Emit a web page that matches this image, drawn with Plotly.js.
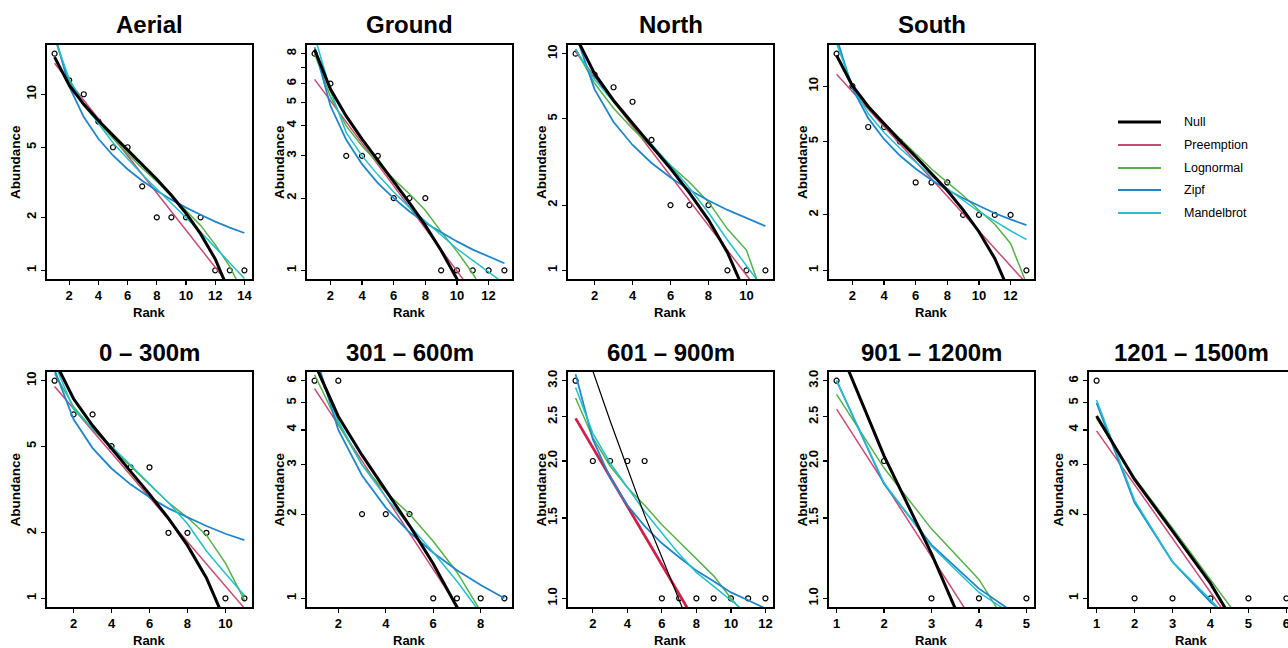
<!DOCTYPE html>
<html><head><meta charset="utf-8">
<script src="https://cdn.plot.ly/plotly-3.0.1.min.js"></script>
<style>html,body{margin:0;padding:0;overflow:hidden;background:#fff}#chart{width:1310px;height:648px}</style>
</head><body><div id="chart"></div>
<script>
// ---- data ----
const titles = ["Aerial","Ground","North","South","0 – 300m","301 – 600m","601 – 900m","901 – 1200m","1201 – 1500m"];
const modelNames = ["Null","Preemption","Lognormal","Zipf","Mandelbrot"];

const obsAerial  = [17,12,10,7,5,5,3,2,2,2,2,1,1,1];
const nullAerial = [16.26,11.26,8.76,7.09,5.84,4.84,4.01,3.29,2.67,2.11,1.61,1.16,0.74,0.36];
const preAerial  = [15.0,11.8,9.24,7.25,5.69,4.47,3.51,2.75,2.16,1.70,1.33,1.05,0.82,0.64];
const lognAerial = [21,11.8,8.6,6.9,5.6,4.6,3.8,3.2,2.65,2.2,1.8,1.4,1.05,0.72];
const zipfAerial = [21.9,11.07,7.42,5.59,4.49,3.75,3.23,2.83,2.52,2.27,2.07,1.89,1.75,1.63];
const mandAerial = [21,12.2,8.8,6.8,5.3,4.3,3.5,2.9,2.4,2.0,1.65,1.35,1.1,0.9];

const obsGround  = [8,6,3,3,3,2,2,2,1,1,1,1,1];
const nullGround = [8.32,5.70,4.39,3.52,2.87,2.35,1.91,1.54,1.21,0.92,0.66,0.42,0.20];
const preGround  = [6.25,5.09,4.15,3.38,2.76,2.25,1.83,1.49,1.22,0.99,0.81,0.66,0.54];
const lognGround = [8.0,5.3,4.0,3.3,2.8,2.4,2.08,1.78,1.45,1.2,0.97,0.75,0.55];
const zipfGround = [8.5,4.85,3.50,2.77,2.31,2.00,1.76,1.58,1.44,1.32,1.22,1.14,1.07];
const mandGround = [9.5,5.6,3.75,3.0,2.5,2.12,1.83,1.6,1.4,1.23,1.1,0.98,0.88];

const obsNorth  = [10,8,7,6,4,2,2,2,1,1,1];
const nullNorth = [12.08,8.08,6.08,4.75,3.75,2.95,2.28,1.71,1.21,0.76,0.36];
const preNorth  = [10.2,7.83,6.02,4.62,3.55,2.73,2.09,1.61,1.24,0.95,0.73];
const lognNorth = [10.5,7.3,5.6,4.5,3.7,3.05,2.55,2.07,1.55,1.24,0.7];
const zipfNorth = [12.35,6.84,4.84,3.79,3.13,2.68,2.35,2.10,1.90,1.74,1.60];
const mandNorth = [10.5,7.6,6.0,4.8,3.85,3.05,2.4,1.85,1.38,1.04,0.8];

const obsSouth  = [15,10,6,6,5,3,3,3,2,2,2,2,1];
const nullSouth = [14.68,10.06,7.75,6.22,5.06,4.14,3.37,2.71,2.13,1.62,1.16,0.74,0.355];
const preSouth  = [11.6,9.33,7.50,6.03,4.85,3.90,3.13,2.52,2.03,1.63,1.31,1.05,0.85];
const lognSouth = [14.5,9.8,7.6,6.3,5.2,4.3,3.55,3.0,2.55,2.12,1.78,1.4,0.85];
const zipfSouth = [18.3,9.71,6.70,5.15,4.20,3.56,3.09,2.74,2.46,2.23,2.04,1.89,1.76];
const mandSouth = [17,10.0,7.1,5.6,4.6,3.85,3.25,2.78,2.4,2.08,1.85,1.64,1.47];

const obsE1  = [10,7,7,5,4,4,2,2,2,1,1];
const nullE1 = [12.35,8.26,6.22,4.85,3.83,3.01,2.33,1.75,1.24,0.78,0.37];
const preE1  = [9.4,7.44,5.88,4.65,3.68,2.91,2.30,1.82,1.44,1.14,0.90];
const lognE1 = [10.8,7.6,6.0,4.9,4.05,3.35,2.75,2.35,1.95,1.45,0.98];
const zipfE1 = [11.2,6.65,4.90,3.95,3.34,2.91,2.59,2.35,2.15,1.98,1.85];
const mandE1 = [12,7.4,6.0,5.0,4.1,3.35,2.75,2.2,1.65,1.3,1.03];

const obsE2  = [6,6,2,2,2,1,1,1,1];
const nullE2 = [6.915,4.47,3.25,2.43,1.82,1.33,0.93,0.58,0.27];
const preE2  = [5.62,4.18,3.10,2.31,1.71,1.27,0.947,0.70,0.52];
const lognE2 = [6.3,4.2,3.0,2.4,2.0,1.6,1.24,0.9,0.6];
const zipfE2 = [7.58,4.0,2.75,2.11,1.72,1.455,1.26,1.115,1.0];
const mandE2 = [7.0,4.3,3.0,2.3,1.82,1.46,1.15,0.88,0.68];

const obsE3  = [3,2,2,2,2,1,1,1,1,1,1,1];
const nullE3 = [4.6,3.15,2.45,1.93,1.52,1.23,1.0,0.8,0.61,0.43,0.28,0.13];
const preE3  = [2.48,2.14,1.84,1.59,1.37,1.18,1.02,0.88,0.76,0.65,0.56,0.48];
const lognE3 = [2.75,2.25,1.95,1.75,1.6,1.45,1.33,1.22,1.12,1.0,0.91,0.82];
const zipfE3 = [3.1,2.23,1.84,1.60,1.44,1.32,1.23,1.15,1.09,1.03,0.99,0.95];
const mandE3 = [2.9,2.3,1.98,1.75,1.55,1.39,1.25,1.14,1.06,0.99,0.92,0.86];

const obsE4  = [3,2,1,1,1];
const nullE4 = [3.653,2.053,1.253,0.72,0.32];
const preE4  = [2.6,1.79,1.23,0.85,0.58];
const lognE4 = [2.8,1.93,1.42,1.1,0.75];
const zipfE4 = [3.0,1.78,1.31,1.05,0.89];
const mandE4 = [3.0,1.79,1.30,1.03,0.88];

const obsE5  = [6,1,1,1,1,1];
const nullE5 = [4.49,2.66,1.74,1.13,0.67,0.31];
const preE5  = [3.97,2.55,1.64,1.05,0.675,0.43];
const lognE5 = [4.4,2.7,1.78,1.18,0.78,0.5];
const zipfE5 = [5.0,2.2,1.35,0.97,0.75,0.6];
const mandE5 = [5.12,2.24,1.35,0.99,0.7,0.55];

// tick labels
const xTicksAerial = [2,4,6,8,10,12,14];
const xTicksGround = [2,4,6,8,10,12];
const xTicksNorth  = [2,4,6,8,10];
const xTicksSouth  = [2,4,6,8,10,12];
const xTicksE1 = [2,4,6,8,10];
const xTicksE2 = [2,4,6,8];
const xTicksE3 = [2,4,6,8,10,12];
const xTicksE4 = [1,2,3,4,5];
const xTicksE5 = [1,2,3,4,5,6];
const yTicks1_10 = [1,2,5,10];
const yTicksGround = [1,2,3,4,5,6,7,8];
const yLabelsGround = ["1","2","3","4","5","6","","8"];
const yTicks1_6 = [1,2,3,4,5,6];
const yTicksHalf = [1.0,1.5,2.0,2.5,3.0];
const yLabelsHalf = ["1.0","1.5","2.0","2.5","3.0"];

const panels = [
  {obs:obsAerial, m:[nullAerial,preAerial,lognAerial,zipfAerial,mandAerial], xt:xTicksAerial, yt:yTicks1_10},
  {obs:obsGround, m:[nullGround,preGround,lognGround,zipfGround,mandGround], xt:xTicksGround, yt:yTicksGround, yl:yLabelsGround},
  {obs:obsNorth,  m:[nullNorth,preNorth,lognNorth,zipfNorth,mandNorth], xt:xTicksNorth, yt:yTicks1_10},
  {obs:obsSouth,  m:[nullSouth,preSouth,lognSouth,zipfSouth,mandSouth], xt:xTicksSouth, yt:yTicks1_10},
  {obs:obsE1, m:[nullE1,preE1,lognE1,zipfE1,mandE1], xt:xTicksE1, yt:yTicks1_10},
  {obs:obsE2, m:[nullE2,preE2,lognE2,zipfE2,mandE2], xt:xTicksE2, yt:yTicks1_6},
  {obs:obsE3, m:[nullE3,preE3,lognE3,zipfE3,mandE3], xt:xTicksE3, yt:yTicksHalf, yl:yLabelsHalf, special:true},
  {obs:obsE4, m:[nullE4,preE4,lognE4,zipfE4,mandE4], xt:xTicksE4, yt:yTicksHalf, yl:yLabelsHalf},
  {obs:obsE5, m:[nullE5,preE5,lognE5,zipfE5,mandE5], xt:xTicksE5, yt:yTicks1_6}
];

// ---- styling / layout ----
const W = 1310, H = 648;
const colors = ["#000000","#c94a74","#55b04a","#1f86cc","#22bfcc"];
const widths = [3,1.5,1.5,1.8,1.5];
const FONT = "Liberation Sans, Arial, sans-serif";
const colLeft = [47,307,568,829,1089];
const abOff = [32,28,27,27,31];
const boxW = 205;
const rows = [{top:45,bottom:279},{top:372,bottom:607}];

const traces = [];
const layout = {
  width: W, height: H, margin:{l:0,r:0,t:0,b:0},
  paper_bgcolor:"#fff", plot_bgcolor:"#fff", showlegend:false,
  annotations: [], shapes: [], font:{family:FONT, color:"#000"}
};

panels.forEach((p, i) => {
  const col = i < 4 ? i : i - 4;
  const row = i < 4 ? rows[0] : rows[1];
  const L = colLeft[col];
  const sfx = i === 0 ? "" : String(i + 1);
  const xa = "x" + sfx, ya = "y" + sfx;
  const n = p.obs.length;
  const ranks = p.obs.map((_, k) => k + 1);
  const xpad = 0.04 * (n - 1);
  const lmin = Math.log10(Math.min(...p.obs)), lmax = Math.log10(Math.max(...p.obs));
  const ypad = 0.04 * (lmax - lmin);
  const tf = {family:FONT, size:13, color:"#000", weight:"bold"};

  layout["xaxis" + sfx] = {
    domain:[L / W, (L + boxW) / W], anchor: ya,
    range:[1 - xpad, n + xpad], tickvals:p.xt, ticktext:p.xt.map(String),
    ticks:"outside", ticklen:4, tickwidth:1.2, tickcolor:"#000",
    showline:true, mirror:true, linecolor:"#000", linewidth:1.8,
    showgrid:false, zeroline:false, fixedrange:true, tickfont:tf
  };
  layout["yaxis" + sfx] = {
    domain:[(H - row.bottom) / H, (H - row.top) / H], anchor: xa, type:"log",
    range:[lmin - ypad, lmax + ypad], tickvals:p.yt, ticktext:(p.yl || p.yt.map(String)),
    tickangle:-90, ticks:"outside", ticklen:4, tickwidth:1.2, tickcolor:"#000",
    showline:true, mirror:true, linecolor:"#000", linewidth:1.8,
    showgrid:false, zeroline:false, fixedrange:true, tickfont:tf
  };

  traces.push({x:ranks, y:p.obs, xaxis:xa, yaxis:ya, type:"scatter", mode:"markers",
    marker:{symbol:"circle-open", size:5, color:"#000", line:{width:1.2, color:"#000"}}, hoverinfo:"skip"});

  [1,2,3,4,0].forEach(j => {
    let w = widths[j], c = colors[j];
    if (p.special && j === 0) w = 1.2;
    if (p.special && j === 1) { w = 2.8; c = "#d11f4a"; }
    traces.push({x:ranks, y:p.m[j], xaxis:xa, yaxis:ya, type:"scatter", mode:"lines",
      name:modelNames[j], line:{color:c, width:w}, hoverinfo:"skip"});
  });

  const cx = (L + boxW / 2) / W;
  layout.annotations.push({text:"<b>" + titles[i] + "</b>", xref:"paper", yref:"paper",
    x:cx, y:(H - (row.top - 20)) / H, xanchor:"center", yanchor:"middle", showarrow:false,
    font:{family:FONT, size:24, color:"#000"}});
  layout.annotations.push({text:"<b>Rank</b>", xref:"paper", yref:"paper",
    x:cx, y:(H - (row.bottom + 33)) / H, xanchor:"center", yanchor:"middle", showarrow:false,
    font:{family:FONT, size:13, color:"#000"}});
  layout.annotations.push({text:"<b>Abundance</b>", xref:"paper", yref:"paper", textangle:-90,
    x:(L - abOff[col]) / W, y:(H - (row.top + row.bottom) / 2) / H, xanchor:"center", yanchor:"middle", showarrow:false,
    font:{family:FONT, size:13.5, color:"#000"}});
});

// legend
const legY = [122,145,168,190,213];
modelNames.forEach((nm, j) => {
  layout.shapes.push({type:"line", xref:"paper", yref:"paper",
    x0:1118 / W, x1:1161 / W, y0:(H - legY[j]) / H, y1:(H - legY[j]) / H,
    line:{color:colors[j], width:j === 0 ? 3.2 : 1.8}});
  layout.annotations.push({text:nm, xref:"paper", yref:"paper", x:1182 / W, y:(H - legY[j]) / H,
    xanchor:"left", yanchor:"middle", showarrow:false, font:{family:FONT, size:12.5, color:"#000"}});
});

Plotly.newPlot("chart", traces, layout, {staticPlot:true, displayModeBar:false});
</script>
</body></html>
